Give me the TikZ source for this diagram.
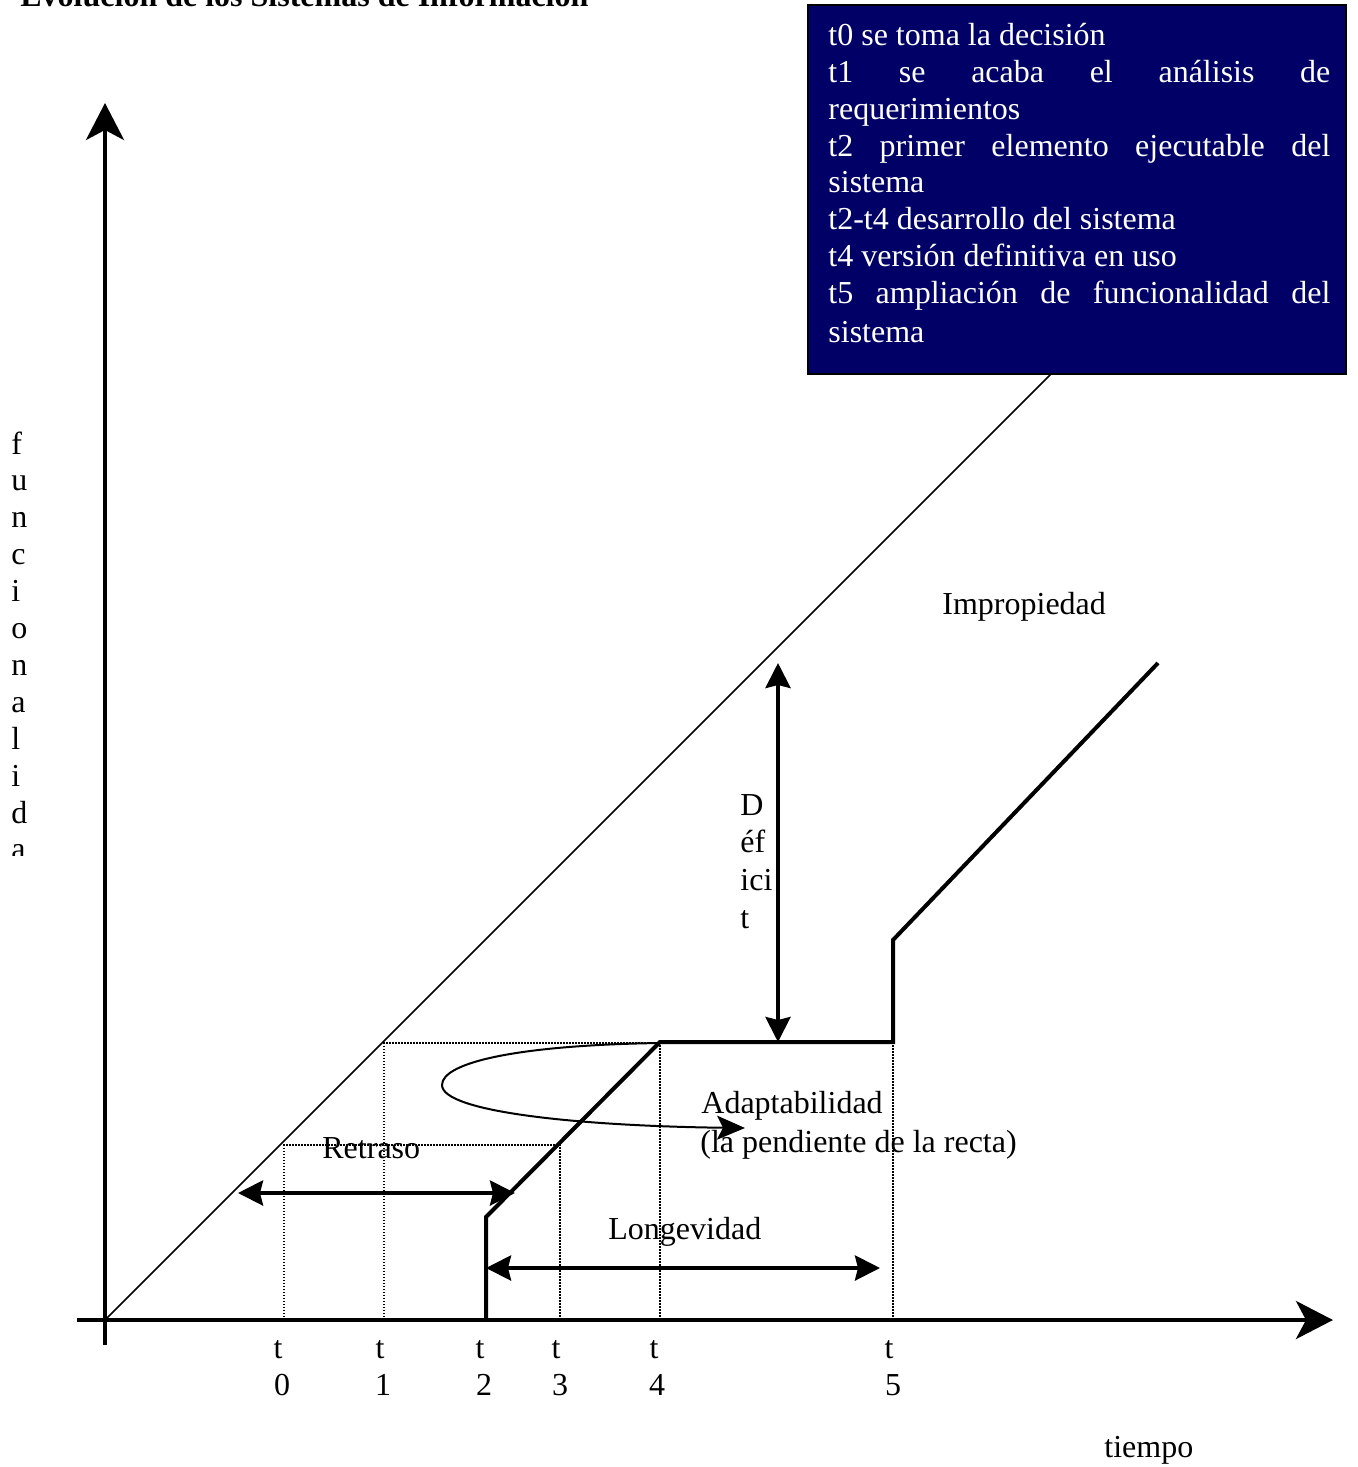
\documentclass[tikz,border=0pt]{standalone}
\usepackage{fontspec}
\setmainfont{Liberation Serif}
\usetikzlibrary{arrows.meta}
\definecolor{notebox}{RGB}{0,0,102}
\begin{document}
\begin{tikzpicture}[x=0.5pt,y=-0.5pt,
  lbl/.style={inner sep=0pt, font=\fontsize{16}{18.4}\selectfont},
  boxtxt/.style={lbl, text=white, anchor=base west},
  axis/.style={line width=2pt, -{Stealth[length=18.5pt,width=19pt,inset=5pt]}},
  span/.style={line width=2pt,
    {Stealth[length=12.5pt,width=12.5pt,inset=1.5pt]}-{Stealth[length=12.5pt,width=12.5pt,inset=1.5pt]}},
  guide/.style={line width=0.75pt, dash pattern=on 0.75pt off 0.75pt},
  system/.style={line width=2pt, line join=miter},
  ideal/.style={line width=0.75pt},
  bendarrow/.style={line width=1pt, -{Stealth[length=14pt,width=12pt,inset=3pt]}},
]
\useasboundingbox (0,0) rectangle (1357,1467);

% title (partly above the page edge)
\node[lbl, font=\fontsize{16}{18.4}\selectfont\bfseries, anchor=base west] (title) at (20,6)
  {Evolución de los Sistemas de Información};

% axes
\coordinate (O) at (105,1320);
\coordinate (ytop) at (105,103);
\coordinate (ybot) at (105,1345);
\coordinate (xleft) at (77,1320);
\coordinate (xright) at (1333,1320);
\draw[axis] (ybot) -- (ytop);
\draw[axis] (xleft) -- (xright);

% ideal functionality line
\coordinate (idealEnd) at (1052,373);
\draw[ideal] (O) -- (idealEnd);

% legend box
\node[draw=black, fill=notebox, line width=0.75pt, minimum width=269pt,
      minimum height=184.5pt, inner sep=0pt] (notes) at (1077,189.5) {};
\node[boxtxt] (n1) at (828,46) {t0 se toma la decisión};
\node[boxtxt] (n2) at (828,82.7) {\makebox[251pt][s]{t1 se acaba el análisis de}};
\node[boxtxt] (n3) at (828,119.4) {requerimientos};
\node[boxtxt] (n4) at (828,156) {\makebox[251pt][s]{t2 primer elemento ejecutable del}};
\node[boxtxt] (n5) at (828,192.8) {sistema};
\node[boxtxt] (n6) at (828,229.5) {t2-t4 desarrollo del sistema};
\node[boxtxt] (n7) at (828,266) {t4 versión definitiva en uso};
\node[boxtxt] (n8) at (828,303) {\makebox[251pt][s]{t5 ampliación de funcionalidad del}};
\node[boxtxt] (n9) at (828,342) {sistema};

% dotted guides
\coordinate (g0b) at (284,1320); \coordinate (g0t) at (284,1145);
\coordinate (g3t) at (560,1145); \coordinate (g3b) at (560,1320);
\draw[guide] (g0b) -- (g0t) -- (g3t) -- (g3b);
\coordinate (g1b) at (384,1320); \coordinate (g1t) at (384,1043);
\coordinate (g4t) at (660,1043); \coordinate (g4b) at (660,1320);
\draw[guide] (g1b) -- (g1t) -- (g4t) -- (g4b);
\coordinate (g5t) at (893,1042); \coordinate (g5b) at (893,1320);
\draw[guide] (g5t) -- (g5b);

% real system functionality
\coordinate (s0) at (486,1320);
\coordinate (s1) at (486,1217);
\coordinate (s2) at (660,1042);
\coordinate (s3) at (893,1042);
\coordinate (s4) at (893,940);
\coordinate (s5) at (1158,663);
\draw[system] (s0) -- (s1) -- (s2) -- (s3) -- (s4) -- (s5);

% measured spans
\coordinate (rL) at (238,1193); \coordinate (rR) at (515,1193);
\draw[span] (rL) -- (rR);
\coordinate (lL) at (486,1268); \coordinate (lR) at (880,1268);
\draw[span] (lL) -- (lR);
\coordinate (dT) at (778,663); \coordinate (dB) at (778,1042);
\draw[span] (dT) -- (dB);

% adaptability loop
\coordinate (loopLeft) at (442,1085);
\coordinate (loopEnd) at (745,1128);
\draw[bendarrow] (g4t) .. controls (520,1045) and (442,1062) .. (loopLeft)
  .. controls (442,1112) and (580,1126) .. (loopEnd);

% labels
\node[lbl, anchor=base west] (retraso) at (322,1158) {Retraso};
\node[lbl, anchor=base west] (longev) at (608,1239) {Longevidad};
\node[lbl, anchor=base west] (improp) at (942,614) {Impropiedad};
\node[lbl, anchor=base west] (adapt) at (701,1113) {Adaptabilidad};
\node[lbl, anchor=base west] (pend) at (700,1152) {(la pendiente de la recta)};
\node[lbl, anchor=base west] (tiempo) at (1104,1457) {tiempo};

\foreach \part [count=\i] in {D,éf,ici,t}
  \node[lbl, anchor=base west] (def\i) at (740,{815+37.7*(\i-1)}) {\part};

\foreach \num/\xt/\xd in {0/278/282,1/380/383,2/480/484,3/556/560,4/654/657,5/889/893} {
  \node[lbl, anchor=base] (tt\num) at (\xt,1358) {t};
  \node[lbl, anchor=base] (td\num) at (\xd,1395) {\num};
}

% vertical axis label, cut at the bottom of its frame
\begin{scope}
  \clip (0,400) rectangle (60,855);
  \foreach \ch [count=\i] in {f,u,n,c,i,o,n,a,l,i,d,a}
    \node[lbl, anchor=base west] (fn\i) at (11,{454+36.9*(\i-1)}) {\ch};
\end{scope}
\end{tikzpicture}
\end{document}
